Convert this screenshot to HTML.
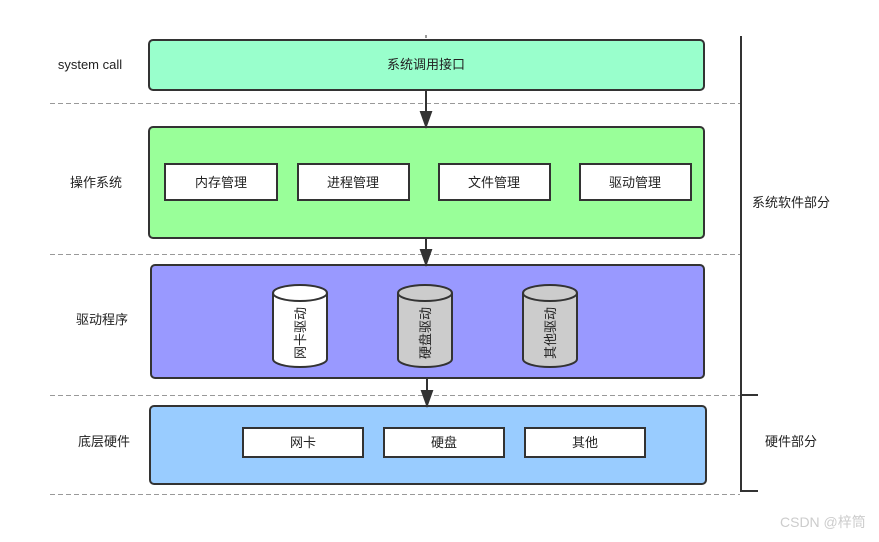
<!DOCTYPE html>
<html><head><meta charset="utf-8"><style>
html,body{margin:0;padding:0;background:#fff;}
svg text{font-family:"Liberation Sans","Noto Sans CJK SC",sans-serif;font-size:13px;fill:#222;}
</style></head><body>
<svg width="879" height="537" viewBox="0 0 879 537" xmlns="http://www.w3.org/2000/svg">
<defs><marker id="a" markerWidth="10" markerHeight="12" refX="5" refY="11" orient="auto" markerUnits="userSpaceOnUse">
<path d="M0,0 L10,0 L5,12 Z" fill="#333" transform="rotate(-90 5 6) rotate(90 5 6)"/></marker></defs>
<g stroke="#999" stroke-dasharray="5,3" stroke-width="1">
<line x1="50" y1="103.5" x2="740" y2="103.5"/>
<line x1="50" y1="254.5" x2="740" y2="254.5"/>
<line x1="50" y1="395.5" x2="740" y2="395.5"/>
<line x1="50" y1="494.5" x2="740" y2="494.5"/>
</g>
<line x1="426" y1="35" x2="426" y2="38" stroke="#333"/>
<rect x="149" y="40" width="555" height="50" rx="4" fill="#99ffcc" stroke="#333" stroke-width="2"/>
<text x="426" y="69" text-anchor="middle">系统调用接口</text>
<rect x="149" y="127" width="555" height="111" rx="4" fill="#99ff99" stroke="#333" stroke-width="2"/>
<g fill="#fff" stroke="#333" stroke-width="2">
<rect x="165" y="164" width="112" height="36"/><rect x="298" y="164" width="111" height="36"/>
<rect x="439" y="164" width="111" height="36"/><rect x="580" y="164" width="111" height="36"/>
</g>
<text x="221" y="187" text-anchor="middle">内存管理</text>
<text x="353" y="187" text-anchor="middle">进程管理</text>
<text x="494" y="187" text-anchor="middle">文件管理</text>
<text x="635" y="187" text-anchor="middle">驱动管理</text>
<rect x="151" y="265" width="553" height="113" rx="4" fill="#9999ff" stroke="#333" stroke-width="2"/>
<g stroke="#333" stroke-width="2">
<path d="M273,293 v66 a27,8 0 0 0 54,0 v-66" fill="#fff"/><ellipse cx="300" cy="293" rx="27" ry="8" fill="#fff"/>
<path d="M398,293 v66 a27,8 0 0 0 54,0 v-66" fill="#ccc"/><ellipse cx="425" cy="293" rx="27" ry="8" fill="#ccc"/>
<path d="M523,293 v66 a27,8 0 0 0 54,0 v-66" fill="#ccc"/><ellipse cx="550" cy="293" rx="27" ry="8" fill="#ccc"/>
</g>
<text transform="translate(305,333) rotate(-90)" text-anchor="middle">网卡驱动</text>
<text transform="translate(430,333) rotate(-90)" text-anchor="middle">硬盘驱动</text>
<text transform="translate(555,333) rotate(-90)" text-anchor="middle">其他驱动</text>
<rect x="150" y="406" width="556" height="78" rx="4" fill="#99ccff" stroke="#333" stroke-width="2"/>
<g fill="#fff" stroke="#333" stroke-width="2">
<rect x="243" y="428" width="120" height="29"/><rect x="384" y="428" width="120" height="29"/><rect x="525" y="428" width="120" height="29"/>
</g>
<text x="303" y="447" text-anchor="middle">网卡</text>
<text x="444" y="447" text-anchor="middle">硬盘</text>
<text x="585" y="447" text-anchor="middle">其他</text>
<g stroke="#333" stroke-width="2" fill="#333">
<line x1="426" y1="90" x2="426" y2="113"/><path d="M421,112 L431,112 L426,126 Z"/>
<line x1="426" y1="238" x2="426" y2="251"/><path d="M421,250 L431,250 L426,264 Z"/>
<line x1="427" y1="378" x2="427" y2="392"/><path d="M422,391 L432,391 L427,405 Z"/>
</g>
<g stroke="#333" stroke-width="2" fill="none">
<path d="M741,36 V491 H758"/><line x1="741" y1="395" x2="758" y2="395"/>
</g>
<text x="90" y="69" text-anchor="middle">system call</text>
<text x="96" y="187" text-anchor="middle">操作系统</text>
<text x="102" y="324" text-anchor="middle">驱动程序</text>
<text x="104" y="446" text-anchor="middle">底层硬件</text>
<text x="752" y="207">系统软件部分</text>
<text x="765" y="446">硬件部分</text>
<text x="780" y="527" style="fill:#ccc;font-size:14px">CSDN @梓筒</text>
</svg>
</body></html>
